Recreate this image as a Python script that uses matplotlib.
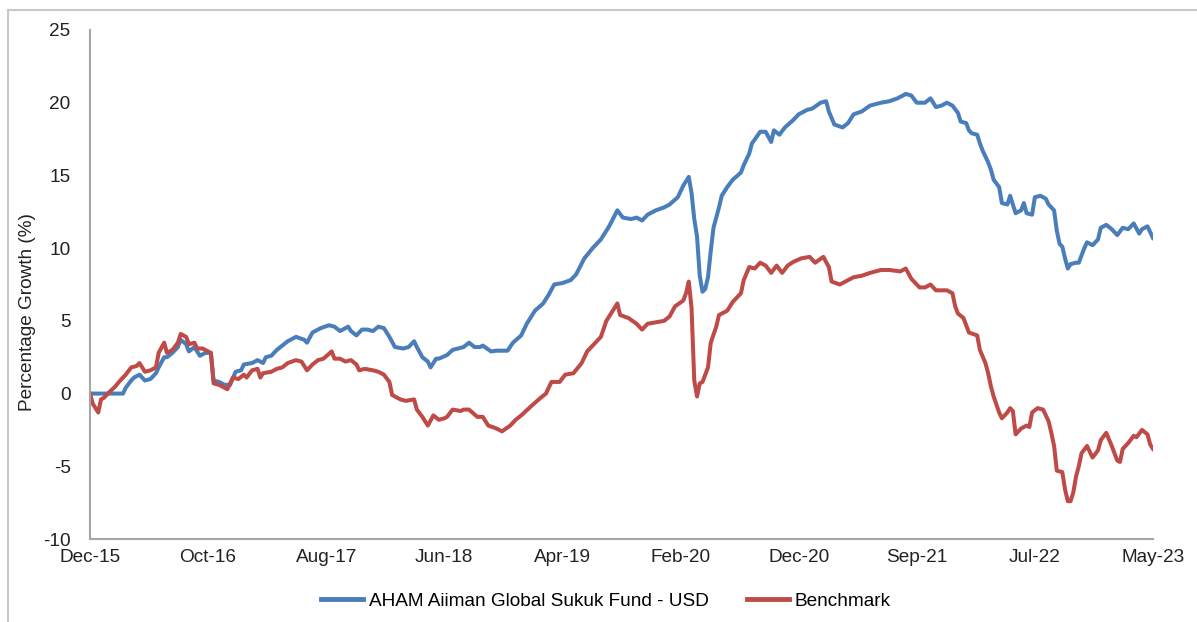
import numpy as np
import matplotlib
matplotlib.use("Agg")
import matplotlib.pyplot as plt
from matplotlib.lines import Line2D

plt.rcParams["font.family"] = ["Liberation Sans", "DejaVu Sans"]
plt.rcParams["axes.unicode_minus"] = False

# weekly series, x = weeks since Dec-15, labels every 43 weeks
tick_labels = ["Dec-15", "Oct-16", "Aug-17", "Jun-18", "Apr-19",
               "Feb-20", "Dec-20", "Sep-21", "Jul-22", "May-23"]

fund_name = "AHAM Aiiman Global Sukuk Fund - USD"
bench_name = "Benchmark"

fund_weeks = [
    0, 12, 13, 15, 16, 18, 20, 22, 24, 25, 27, 28, 30, 32, 33, 35, 36, 38, 40, 42,
    44, 45, 47, 49, 51, 53, 55, 56, 59, 61, 63, 64, 66, 68, 70, 72, 75, 78, 79, 81,
    84, 87, 89, 91, 94, 95, 97, 99, 101, 103, 105, 107, 109, 111, 114, 116, 118, 119, 121, 123,
    124, 126, 127, 130, 132, 134, 136, 138, 140, 142, 143, 146, 148, 152, 154, 157, 159, 162, 165, 167,
    169, 172, 175, 177, 180, 183, 186, 189, 192, 194, 197, 199, 201, 203, 206, 209, 211, 214, 216, 218,
    219, 220, 221, 222, 223, 224, 225, 226, 227, 229, 230, 232, 234, 237, 238, 240, 241, 244, 246, 248,
    249, 251, 253, 256, 258, 261, 263, 266, 268, 269, 271, 274, 276, 278, 281, 284, 288, 291, 294, 297,
    299, 301, 304, 306, 308, 310, 312, 314, 316, 317, 319, 320, 321, 323, 324, 325, 327, 328, 329, 331,
    332, 334, 335, 337, 339, 340, 341, 343, 344, 346, 348, 349, 351, 352, 353, 354, 355, 356, 357, 359,
    360, 362, 363, 365, 367, 368, 370, 372, 374, 376, 378, 380, 382, 383, 385, 386, 387]
fund_vals = [
    0.0, 0.0, 0.4, 0.9, 1.1, 1.3, 0.9, 1.0, 1.4, 1.8, 2.5, 2.5, 2.8, 3.2, 3.7, 3.4, 2.9, 3.2, 2.6, 2.8,
    2.8, 0.9, 0.8, 0.6, 0.6, 1.5, 1.6, 2.0, 2.1, 2.3, 2.1, 2.5, 2.6, 3.0, 3.3, 3.6, 3.9, 3.7, 3.5, 4.2,
    4.5, 4.7, 4.6, 4.3, 4.6, 4.3, 4.0, 4.4, 4.4, 4.3, 4.6, 4.5, 3.9, 3.2, 3.1, 3.2, 3.6, 3.2, 2.5, 2.2,
    1.8, 2.4, 2.4, 2.65, 3.0, 3.1, 3.2, 3.5, 3.2, 3.2, 3.3, 2.9, 2.95, 2.95, 3.5, 4.0, 4.8, 5.7, 6.2, 6.8,
    7.5, 7.6, 7.8, 8.2, 9.3, 10.0, 10.6, 11.5, 12.6, 12.1, 12.0, 12.1, 11.9, 12.3, 12.6, 12.8, 13.0, 13.5, 14.3, 14.9,
    13.8, 12.0, 10.8, 8.1, 7.0, 7.2, 8.0, 9.8, 11.4, 12.8, 13.6, 14.2, 14.7, 15.2, 15.7, 16.5, 17.2, 18.0, 18.0, 17.3,
    18.1, 17.8, 18.3, 18.8, 19.2, 19.5, 19.6, 20.0, 20.1, 19.4, 18.5, 18.3, 18.6, 19.2, 19.4, 19.8, 20.0, 20.1, 20.3, 20.6,
    20.5, 20.0, 20.0, 20.3, 19.7, 19.8, 20.0, 19.8, 19.3, 18.7, 18.6, 18.1, 17.9, 17.8, 17.2, 16.7, 15.9, 15.4, 14.7, 14.2,
    13.1, 13.0, 13.6, 12.4, 12.6, 13.1, 12.4, 12.3, 13.5, 13.6, 13.4, 13.0, 12.6, 11.2, 10.3, 10.1, 9.3, 8.6, 8.9, 9.0,
    9.0, 10.0, 10.4, 10.2, 10.6, 11.4, 11.6, 11.3, 10.9, 11.4, 11.3, 11.7, 11.0, 11.3, 11.5, 11.1, 10.7]

bench_weeks = [
    0, 1, 3, 4, 5, 7, 9, 11, 13, 15, 17, 18, 20, 22, 24, 25, 27, 28, 30, 32,
    33, 35, 36, 38, 39, 41, 43, 44, 45, 47, 49, 50, 52, 54, 56, 57, 59, 61, 62, 63,
    66, 68, 70, 72, 75, 77, 79, 81, 83, 85, 88, 89, 91, 93, 95, 97, 98, 100, 103, 105,
    107, 109, 110, 113, 115, 118, 119, 121, 123, 125, 127, 129, 130, 132, 135, 136, 138, 141, 143, 145,
    148, 150, 153, 155, 157, 161, 164, 166, 168, 171, 173, 176, 179, 181, 183, 186, 188, 192, 193, 196,
    199, 201, 203, 206, 209, 211, 213, 216, 217, 218, 219, 220, 221, 222, 223, 225, 226, 228, 229, 232,
    234, 237, 238, 240, 242, 244, 246, 248, 250, 252, 254, 256, 259, 262, 264, 267, 269, 270, 273, 275,
    278, 281, 284, 288, 291, 295, 297, 299, 302, 304, 306, 308, 310, 312, 314, 315, 316, 318, 320, 323,
    324, 326, 327, 328, 329, 331, 332, 334, 335, 336, 337, 339, 341, 342, 343, 345, 347, 349, 350, 351,
    352, 354, 355, 356, 357, 358, 359, 360, 361, 363, 365, 367, 368, 370, 372, 374, 375, 376, 378, 380,
    381, 383, 385, 386, 387]
bench_vals = [
    0.0, -0.7, -1.3, -0.4, -0.3, 0.1, 0.45, 0.9, 1.3, 1.8, 1.9, 2.1, 1.5, 1.6, 1.8, 2.8, 3.5, 2.8, 3.0, 3.5,
    4.1, 3.9, 3.4, 3.5, 3.1, 3.1, 2.9, 2.8, 0.7, 0.6, 0.4, 0.3, 1.1, 1.0, 1.3, 1.1, 1.6, 1.7, 1.1, 1.4,
    1.5, 1.7, 1.8, 2.1, 2.3, 2.2, 1.6, 2.0, 2.3, 2.4, 2.9, 2.4, 2.4, 2.2, 2.3, 2.0, 1.6, 1.7, 1.6, 1.5,
    1.3, 0.8, -0.1, -0.4, -0.5, -0.4, -1.1, -1.6, -2.2, -1.5, -1.8, -1.7, -1.6, -1.1, -1.2, -1.1, -1.1, -1.6, -1.6, -2.2,
    -2.4, -2.6, -2.2, -1.8, -1.5, -0.8, -0.3, 0.0, 0.8, 0.8, 1.3, 1.4, 2.1, 2.9, 3.3, 3.9, 5.0, 6.2, 5.4, 5.2,
    4.8, 4.4, 4.8, 4.9, 5.0, 5.3, 6.0, 6.4, 6.9, 7.7, 5.9, 0.9, -0.2, 0.7, 0.8, 1.8, 3.5, 4.6, 5.4, 5.7,
    6.3, 6.9, 7.8, 8.7, 8.6, 9.0, 8.8, 8.3, 8.8, 8.3, 8.8, 9.05, 9.3, 9.4, 9.0, 9.4, 8.7, 7.7, 7.5, 7.7,
    8.0, 8.1, 8.3, 8.5, 8.5, 8.4, 8.6, 7.9, 7.3, 7.3, 7.5, 7.1, 7.1, 7.1, 6.9, 6.0, 5.5, 5.2, 4.2, 4.0,
    3.0, 2.1, 1.4, 0.5, -0.2, -1.3, -1.7, -1.3, -1.0, -1.2, -2.8, -2.4, -2.2, -2.3, -1.3, -1.0, -1.1, -1.9, -2.7, -3.6,
    -5.3, -5.4, -6.6, -7.4, -7.4, -6.8, -5.7, -5.0, -4.1, -3.6, -4.4, -3.9, -3.2, -2.7, -3.6, -4.6, -4.7, -3.8, -3.4, -2.9,
    -3.0, -2.5, -2.8, -3.5, -3.8]

blue = "#4a7ebb"
red = "#be4b48"
axis_grey = "#a6a6a6"
fs = 13.7

fig = plt.figure(figsize=(11.97, 6.22), dpi=100)
ax = fig.add_axes([0.0752, 0.1334, 0.888, 0.8184])

ax.plot(fund_weeks, fund_vals, color=blue, lw=2.9, solid_joinstyle="round")
ax.plot(bench_weeks, bench_vals, color=red, lw=2.9, solid_joinstyle="round")

ax.set_xlim(0, 387)
ax.set_ylim(-10, 25)
ax.set_yticks(np.arange(-10, 26, 5))
ax.set_xticks(np.arange(len(tick_labels)) * 43)
ax.set_xticklabels(tick_labels)
ax.tick_params(length=0, labelsize=fs, colors="#222222")
ax.tick_params(axis="y", pad=14)
ax.tick_params(axis="x", pad=7)

for s in ["top", "right"]:
    ax.spines[s].set_visible(False)
for s in ["left", "bottom"]:
    ax.spines[s].set_color(axis_grey)
    ax.spines[s].set_linewidth(1.5)

fig.text(0.0226, 0.498, "Percentage Growth (%)", rotation=90,
         ha="center", va="center", fontsize=fs, color="#222222")

handles = [Line2D([], [], color=blue, lw=3.5), Line2D([], [], color=red, lw=3.5)]
fig.legend(handles, [fund_name, bench_name], loc="center",
           bbox_to_anchor=(0.506, 0.034), ncol=2, frameon=False, fontsize=fs,
           handlelength=2.2, handletextpad=0.3, columnspacing=2.0)

# light frame on left and top, as in the source image
fig.add_artist(Line2D([0.0067, 0.0067], [0, 0.984], color="#c8c8c8", lw=1.5))
fig.add_artist(Line2D([0.0067, 1], [0.984, 0.984], color="#c8c8c8", lw=1.5))

fig.savefig("out.png", dpi=100)
